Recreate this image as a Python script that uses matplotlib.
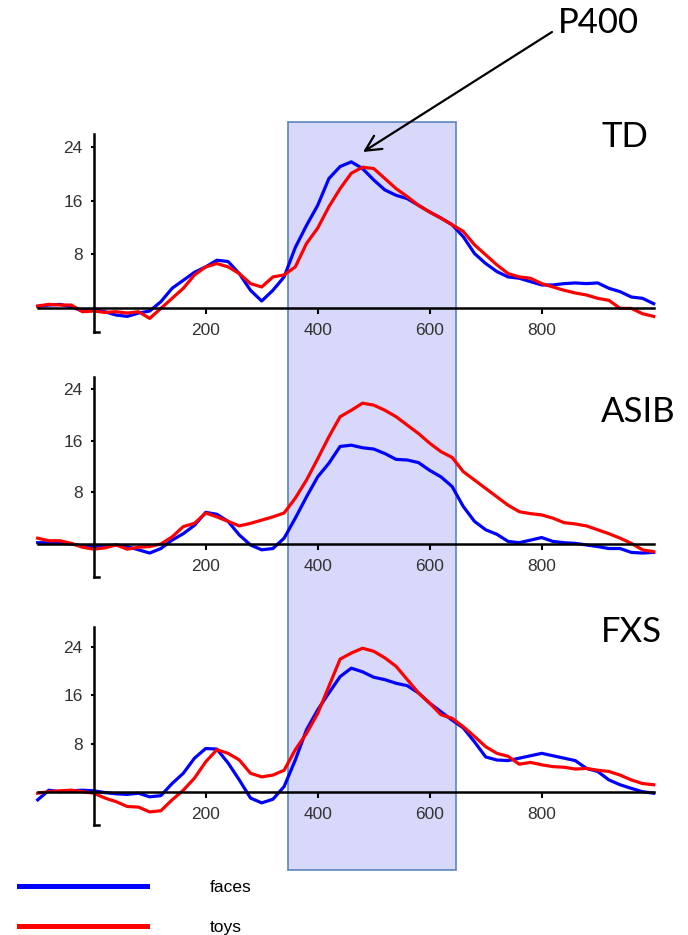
import numpy as np
import matplotlib
matplotlib.use("Agg")
from matplotlib import pyplot as plt
from matplotlib.patches import Rectangle, FancyArrowPatch
from matplotlib.lines import Line2D
import matplotlib.transforms as mtransforms

# time points of the averaged waveforms (ms)
time_ms = np.arange(-100, 1001, 20)

# one value per 20 ms
td_faces = [0.2, 0.4, 0.5, 0.1, -0.5, -0.3, -0.6, -1.1, -1.3, -0.8, -0.5, 0.9, 2.9, 4.1,
            5.3, 6.1, 7.1, 6.9, 5.1, 2.6, 1.0, 2.6, 4.6, 9.0, 12.3, 15.3, 19.3, 21.1,
            21.8, 20.8, 19.1, 17.6, 16.8, 16.3, 15.3, 14.3, 13.4, 12.4, 10.6, 8.1, 6.6, 5.4,
            4.6, 4.4, 3.9, 3.4, 3.4, 3.6, 3.7, 3.6, 3.7, 2.9, 2.4, 1.6, 1.4, 0.6]
td_toys = [0.25, 0.5, 0.4, 0.4, -0.6, -0.5, -0.7, -0.6, -0.8, -0.6, -1.6, -0.1, 1.4, 2.9,
           4.9, 6.1, 6.6, 6.1, 5.1, 3.6, 3.1, 4.6, 4.9, 6.1, 9.6, 11.9, 15.1, 17.8,
           20.1, 21.0, 20.8, 19.3, 17.8, 16.6, 15.3, 14.3, 13.4, 12.4, 11.4, 9.4, 7.9, 6.4,
           5.1, 4.6, 4.4, 3.6, 3.1, 2.6, 2.2, 1.9, 1.4, 1.1, -0.1, -0.1, -0.9, -1.3]

asib_faces = [0.2, 0.2, 0.1, 0.0, -0.3, -0.4, -0.3, -0.15, -0.4, -0.9, -1.4, -0.7, 0.6, 1.6,
              2.9, 4.9, 4.6, 3.5, 1.4, -0.15, -0.9, -0.7, 0.9, 4.0, 7.3, 10.4, 12.5, 15.1,
              15.3, 14.9, 14.7, 14.0, 13.1, 13.0, 12.6, 11.4, 10.4, 8.9, 5.8, 3.5, 2.2, 1.5,
              0.4, 0.2, 0.6, 1.0, 0.4, 0.2, 0.1, -0.15, -0.4, -0.7, -0.7, -1.3, -1.4, -1.3]
asib_toys = [0.9, 0.5, 0.5, 0.1, -0.5, -0.8, -0.6, -0.15, -0.8, -0.5, -0.4, 0.0, 1.1, 2.7,
             3.2, 4.8, 4.2, 3.5, 2.8, 3.2, 3.7, 4.2, 4.8, 7.1, 9.9, 13.2, 16.6, 19.7,
             20.7, 21.8, 21.5, 20.7, 19.7, 18.4, 17.1, 15.6, 14.3, 13.4, 11.2, 9.9, 8.6, 7.3,
             6.0, 5.0, 4.7, 4.5, 4.0, 3.3, 3.1, 2.8, 2.2, 1.6, 0.9, 0.1, -0.9, -1.2]

fxs_faces = [-1.3, 0.3, 0.05, 0.2, 0.3, 0.2, -0.1, -0.3, -0.4, -0.2, -0.8, -0.6, 1.4, 3.1,
             5.6, 7.2, 7.1, 4.8, 2.0, -1.0, -1.8, -1.2, 0.9, 5.3, 10.3, 13.6, 16.4, 19.1,
             20.5, 19.9, 19.0, 18.6, 18.0, 17.6, 16.4, 14.7, 13.3, 11.9, 10.6, 8.3, 5.8, 5.3,
             5.2, 5.6, 6.0, 6.4, 6.0, 5.6, 5.2, 3.9, 3.4, 2.0, 1.2, 0.6, 0.05, -0.2]
fxs_toys = [-0.2, 0.05, 0.2, 0.3, 0.05, -0.2, -1.0, -1.6, -2.4, -2.5, -3.3, -3.1, -1.3, 0.3,
            2.3, 5.0, 7.0, 6.4, 5.3, 3.1, 2.5, 2.8, 3.6, 7.0, 9.7, 13.0, 17.5, 22.0,
            23.0, 23.8, 23.3, 22.2, 20.8, 18.6, 16.4, 14.7, 12.8, 12.2, 10.8, 9.2, 7.5, 6.4,
            5.9, 4.6, 4.9, 4.5, 4.2, 4.1, 3.8, 3.9, 3.6, 3.4, 2.8, 2.0, 1.4, 1.2]

groups = ["TD", "ASIB", "FXS"]
faces = [td_faces, asib_faces, fxs_faces]
toys = [td_toys, asib_toys, fxs_toys]
y_ticks = [8, 16, 24]
x_ticks = [200, 400, 600, 800]
window_ms = (347, 647)  # the shaded P400 window

W, H = 688, 935
fig = plt.figure(figsize=(W / 100, H / 100), dpi=100)

# layout in pixels (from the top): zero line, px per unit, ylim, extent of y axis line
panels = [
    dict(zero=307.7, scale=6.69, ylim=(-4.0, 27.0), yaxis=(-3.7, 26.0), label_y=137),
    dict(zero=544.0, scale=6.46, ylim=(-5.5, 27.0), yaxis=(-5.1, 25.9), label_y=412),
    dict(zero=792.0, scale=6.04, ylim=(-6.0, 28.0), yaxis=(-5.5, 27.3), label_y=632),
]
x_left, x_right = 37.7, 653.7

blue = "#0000ff"
red = "#ff0000"
tick_col = "#333333"

axes = []
for i, p in enumerate(panels):
    bot_px = p["zero"] - p["ylim"][0] * p["scale"]
    top_px = p["zero"] - p["ylim"][1] * p["scale"]
    ax = fig.add_axes([x_left / W, 1 - bot_px / H, (x_right - x_left) / W, (bot_px - top_px) / H])
    ax.patch.set_visible(False)
    ax.set_xlim(-100, 1000)
    ax.set_ylim(*p["ylim"])

    ax.plot(time_ms, faces[i], color=blue, lw=2.3, clip_on=False)
    ax.plot(time_ms, toys[i], color=red, lw=2.3, clip_on=False)

    ax.spines["top"].set_visible(False)
    ax.spines["right"].set_visible(False)
    ax.spines["left"].set_position(("data", 0))
    ax.spines["left"].set_bounds(*p["yaxis"])
    ax.spines["bottom"].set_position(("data", 0))
    for s in ["left", "bottom"]:
        ax.spines[s].set_linewidth(1.8)
        ax.spines[s].set_zorder(3)
    # little foot at the bottom of the y axis
    ax.plot([0, 10], [p["yaxis"][0]] * 2, color="k", lw=1.8, clip_on=False)

    ax.set_yticks(y_ticks)
    ax.set_xticks(x_ticks)
    ax.tick_params(axis="y", direction="out", length=2, width=1.5, pad=6,
                   labelsize=12.5, labelcolor=tick_col)
    ax.tick_params(axis="x", direction="out", length=4, width=1.5, pad=7,
                   labelsize=12.5, labelcolor=tick_col)
    for lab in ax.get_xticklabels() + ax.get_yticklabels():
        lab.set_family("Liberation Sans")

    fig.text(601 / W, 1 - p["label_y"] / H, groups[i], fontsize=25, family="Lato",
             ha="left", va="center")
    axes.append(ax)

# shaded analysis window over all three panels
trans = mtransforms.blended_transform_factory(axes[0].transData, fig.transFigure)
rect = Rectangle((window_ms[0], 1 - 870 / H), window_ms[1] - window_ms[0], (870 - 122) / H,
                 transform=trans, facecolor="#d8d8fa", edgecolor="#5b86c0", lw=1.2, zorder=-1)
fig.add_artist(rect)

fig.text(558 / W, 1 - 23 / H, "P400", fontsize=25, family="Lato", ha="left", va="center")
arrow = FancyArrowPatch((552 / W, 1 - 32 / H), (363 / W, 1 - 152 / H), transform=fig.transFigure,
                        arrowstyle="->", mutation_scale=28, lw=1.6, color="k",
                        shrinkA=0, shrinkB=0)
fig.add_artist(arrow)

handles = [Line2D([], [], color=blue, lw=3.6), Line2D([], [], color=red, lw=3.6)]
fig.legend(handles, ["faces", "toys"], loc="upper left", bbox_to_anchor=(19 / W, 1 - 880 / H),
           frameon=False, borderpad=0, borderaxespad=0, handlelength=7.4, handletextpad=3.6,
           labelspacing=1.45, prop={"family": "Liberation Sans", "size": 12.5})

fig.savefig("out.png", dpi=100)
